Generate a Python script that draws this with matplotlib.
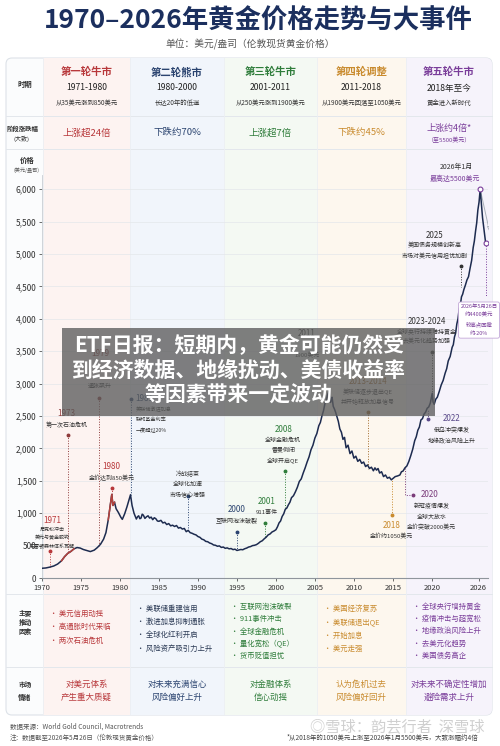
import matplotlib.pyplot as plt
from matplotlib.patches import Rectangle, FancyBboxPatch
from matplotlib.ticker import FuncFormatter

plt.rcParams['font.family'] = ['Noto Sans CJK SC', 'DejaVu Sans']
plt.rcParams['axes.unicode_minus'] = False

# ---- 金价（按图读取，美元/盎司）----
years = [1970.0, 1970.5, 1971.0, 1971.5, 1972.0, 1972.5, 1972.9, 1973.3, 1973.7, 1974.1,
         1974.5, 1974.9, 1975.3, 1975.7, 1976.2, 1976.7, 1977.1, 1977.5, 1977.9, 1978.2,
         1978.5, 1978.75, 1978.95, 1979.1, 1979.3, 1979.5, 1979.8, 1980.1, 1980.3, 1980.6,
         1980.9, 1981.15, 1981.35, 1981.55, 1981.8,
         1982.1, 1982.25, 1982.4, 1982.55, 1982.7, 1982.85, 1983.0, 1983.2, 1983.4, 1983.6,
         1983.8, 1984.0, 1984.2, 1984.4, 1984.6, 1984.8, 1985.0, 1985.25, 1985.5, 1985.75,
         1986.0, 1986.25, 1986.5, 1986.75, 1987.0, 1987.25, 1987.5, 1987.75, 1988.0, 1988.25,
         1988.5, 1988.75, 1989.0, 1989.25, 1989.5, 1989.75, 1990.0, 1990.25, 1990.5, 1990.75,
         1991.0, 1991.25, 1991.5, 1991.75, 1992.0, 1992.25, 1992.5, 1992.75, 1993.0, 1993.25,
         1993.5, 1993.75, 1994.0, 1994.25, 1994.5, 1994.75, 1995.0, 1995.25, 1995.5, 1995.75,
         1996.0, 1996.25, 1996.5, 1996.75, 1997.0, 1997.25, 1997.5, 1997.75, 1998.0, 1998.25,
         1998.5, 1998.75, 1999.0, 1999.25, 1999.5, 1999.75, 2000.0, 2000.2, 2000.4, 2000.6,
         2000.8, 2001.0, 2001.2, 2001.4, 2001.6, 2001.8, 2002.0, 2002.25, 2002.5, 2002.75,
         2003.0, 2003.25, 2003.5, 2003.75, 2004.0, 2004.25, 2004.5, 2004.75, 2005.0, 2005.25,
         2005.5, 2005.7, 2005.9, 2006.1, 2006.3, 2006.45, 2006.6, 2006.8, 2007.0, 2007.1,
         2007.2, 2007.35, 2007.5, 2007.65, 2007.8, 2008.0, 2008.2, 2008.4, 2008.6, 2008.8,
         2009.0, 2009.25, 2009.5, 2009.75, 2010.0, 2010.25, 2010.5, 2010.75, 2011.0, 2011.25,
         2011.5, 2011.75, 2012.0, 2012.25, 2012.5, 2012.7, 2012.9, 2013.1, 2013.3, 2013.55,
         2013.8, 2014.05, 2014.3, 2014.55, 2014.8, 2015.05, 2015.3, 2015.6, 2015.9, 2016.1,
         2016.3, 2016.55, 2016.8, 2017.05, 2017.3, 2017.55, 2017.8, 2018.0, 2018.2, 2018.4,
         2018.6, 2018.8, 2019.0, 2019.2, 2019.4, 2019.6, 2019.8, 2020.05, 2020.15, 2020.3,
         2020.5, 2020.7, 2020.95, 2021.2, 2021.45, 2021.7, 2021.9, 2022.1, 2022.35, 2022.6,
         2022.75, 2022.9, 2023.05, 2023.2, 2023.35, 2023.5, 2023.65, 2023.8, 2023.95, 2024.1,
         2024.3, 2024.5, 2024.7, 2024.9, 2025.1, 2025.3, 2025.45, 2025.6, 2025.75, 2025.9,
         2026.05, 2026.2, 2026.35, 2026.5, 2026.7, 2026.9]
prices = [150, 155, 168, 185, 215, 265, 330, 380, 410, 450,
          470, 462, 440, 425, 408, 430, 470, 520, 600, 700,
          900, 1120, 1290, 1120, 1170, 1070, 1010, 940, 905, 990,
          1100, 1200, 1285, 1120, 1000,
          910, 945, 960, 915, 925, 985, 970, 920, 945, 960,
          925, 940, 900, 930, 915, 880, 875, 890, 850, 860,
          825, 840, 805, 815, 795, 810, 770, 780, 755, 765,
          715, 735, 700, 690, 675, 665, 640, 628, 600, 590,
          565, 560, 540, 530, 510, 505, 490, 495, 472, 478,
          458, 465, 450, 455, 438, 445, 425, 432, 440, 436,
          452, 462, 478, 485, 500, 505, 515, 535, 560, 575,
          605, 630, 665, 680, 710, 725, 745, 790, 850, 880,
          950, 990, 1060, 1080, 1130, 1170, 1240, 1270, 1330, 1400,
          1490, 1530, 1620, 1700, 1790, 1870, 1980, 2050, 2160, 2230,
          2350, 2400, 2500, 2580, 2700, 2740, 2820, 2880, 2710, 2760,
          2790, 2650, 2610, 2560, 2500, 2420, 2300, 2250, 2140, 2170,
          2010, 2050, 1920, 1960, 1850, 1880, 1800, 1830, 1770, 1790,
          1720, 1745, 1690, 1710, 1655, 1700, 1665, 1690, 1620, 1640,
          1565, 1590, 1540, 1555, 1515, 1540, 1565, 1575, 1590, 1640,
          1650, 1700, 1730, 1800, 1890, 1990, 2120, 2180, 2280, 2330,
          2440, 2460, 2530, 2560, 2620, 2640, 2700, 2850, 2720, 2680,
          2760, 2790, 2880, 2980, 3050, 3160, 3230, 3350, 3420, 3560,
          3600, 3720, 3780, 3920, 4000, 4150, 4210, 4340, 4380, 4450,
          4520, 4600, 4650, 4780, 4900, 5100, 5200, 5350, 5480, 5680,
          5800, 6000, 5780, 5560, 5360, 5170]
proj_years = [2026.2, 2027.3]
proj_prices = [6000, 5400]

RED, NAVY, GREEN, GOLD, PURPLE = '#b8383b', '#2b4470', '#2f7d3b', '#c98b2e', '#7a3d9a'
DARK = '#333333'

eras = ['第一轮牛市', '第二轮熊市', '第三轮牛市', '第四轮调整', '第五轮牛市']
era_years = ['1971-1980', '1980-2000', '2001-2011', '2011-2018', '2018年至今']
era_desc = ['从35美元涨到850美元', '长达20年的低迷', '从250美元涨到1900美元',
            '从1900美元回落至1050美元', '黄金进入新时代']
era_change = ['上涨超24倍', '下跌约70%', '上涨超7倍', '下跌约45%', '上涨约4倍*']
era_colors = [RED, NAVY, GREEN, GOLD, PURPLE]
era_bg = ['#fdf3f1', '#f1f5fb', '#f4f9f3', '#fdf7ee', '#f6f3fb']
drivers = [['美元信用动摇', '高通胀时代来临', '两次石油危机'],
           ['美联储重建信用', '激进加息抑制通胀', '全球化红利开启', '风险资产吸引力上升'],
           ['互联网泡沫破裂', '911事件冲击', '全球金融危机', '量化宽松（QE）', '货币贬值担忧'],
           ['美国经济复苏', '美联储退出QE', '开始加息', '美元走强'],
           ['全球央行增持黄金', '疫情冲击与超宽松', '地缘政治风险上升', '去美元化趋势', '美国债务高企']]
moods = [['对美元体系', '产生重大质疑'], ['对未来充满信心', '风险偏好上升'],
         ['对金融体系', '信心动摇'], ['认为危机过去', '风险偏好回升'],
         ['对未来不确定性增加', '避险需求上升']]

# 事件：圆点年份, 圆点价格, 连线终点, 标题x, 标题y, 对齐, 颜色, 标题, 说明, 行距(px), 字号
events = [
    (1971.03, 417, 172, 1971.3, 880, 'center', RED, '1971',
     ['尼克松冲击', '美元与黄金脱钩', '布雷顿森林体系瓦解'], 8.3, 3.6),
    (1973.3, 2207, 385, 1973.17, 2541, 'center', '#8f3b3b', '1973', ['第一次石油危机'], 11.5, 4.3),
    (1977.31, 2782, 500, 1977.44, 3468, 'center', '#8f3b3b', '1979', [], 11, 4.3),
    (1978.94, 1384, 1270, 1978.94, 1718, 'center', RED, '1980', ['金价达到850美元'], 11.5, 4.3),
    (1981.37, 2758, 1285, 1982.0, 2773, 'left', NAVY, '1981',
     ['美联储激进加息', '联邦基金利率', '一度超过20%'], 10.8, 3.7),
    (1988.67, 1270, 720, 1988.67, 1770, 'center', NAVY, '',
     ['冷战结束', '全球化加速', '市场信心增强'], 10.5, 4.3),
    (1994.96, 714, 428, 1994.96, 1060, 'center', NAVY, '2000', ['互联网泡沫破裂'], 10.7, 4.3),
    (1998.59, 844, 630, 1998.81, 1177, 'center', GREEN, '2001', ['911事件'], 11, 4.3),
    (2001.15, 1656, 1080, 2000.94, 2295, 'center', GREEN, '2008',
     ['全球金融危机', '雷曼倒闭', '全球开启QE'], 10.6, 4.3),
    (None, None, None, 2003.94, 3776, 'center', DARK, '2011', [], 10.8, 4.3),
    (2011.83, 2557, 1690, 2011.83, 3029, 'center', '#a26a2a', '2013-2014',
     ['美联储逐步退出QE', '并开始释放加息信号'], 10.2, 4.3),
    (2014.83, 972, 1515, 2014.83, 818, 'center', GOLD, '2018', ['金价约1050美元'], 11, 4.3),
    (2019.53, 2449, 2610, 2022.53, 2464, 'center', '#5a4a8a', '2022',
     ['俄乌冲突爆发', '地缘政治风险上升'], 11.5, 4.3),
    (2020.04, 3492, 2760, 2019.32, 3957, 'center', DARK, '2023-2024',
     ['全球央行持续增持黄金', '去美元化趋势加强'], 10, 4.3),
    (2023.68, 4815, 4490, 2020.38, 5293, 'center', DARK, '2025',
     ['美国债务规模创新高', '市场对美元信用担忧加剧'], 10.5, 4.3),
]

fig = plt.figure(figsize=(5, 7.46), dpi=100)

# ---- 背景表格（像素坐标）----
bg = fig.add_axes([0, 0, 1, 1])
bg.set_xlim(0, 500)
bg.set_ylim(746, 0)
bg.axis('off')

col_edges = [6, 43, 130, 224, 317, 406, 492]
row_edges = [58, 116, 149, 594, 667, 715]
top, bottom = row_edges[0], row_edges[-1]

frame = FancyBboxPatch((6, top), 486, bottom - top, boxstyle='round,pad=0,rounding_size=6',
                       fc='#fbfcfd', ec='#dde2e8', lw=0.8, zorder=1)
bg.add_patch(frame)
for i in range(5):
    r = Rectangle((col_edges[i + 1], top), col_edges[i + 2] - col_edges[i + 1], bottom - top,
                  fc=era_bg[i], ec='none', zorder=1.1)
    bg.add_patch(r)
    r.set_clip_path(frame)
for y in row_edges[1:-1]:
    bg.plot([6, 492], [y, y], color='#e3e7ec', lw=0.7, zorder=1.2)
for x in col_edges[1:-1]:
    bg.plot([x, x], [top, bottom], color='#eceff3', lw=0.6, zorder=1.2)

bg.text(258, 21, '1970–2026年黄金价格走势与大事件', ha='center', va='center',
        fontsize=19, fontweight='bold', color='#1b2f5e')
bg.text(250, 44, '单位：美元/盎司（伦敦现货黄金价格）', ha='center', va='center',
        fontsize=7, color='#555555')

bg.text(25, 84, '时期', ha='center', va='center', fontsize=5.3, fontweight='bold', color=DARK)
bg.text(22, 128, '阶段涨跌幅', ha='center', va='center', fontsize=4.6, fontweight='bold', color=DARK)
bg.text(22, 138.5, '(大致)', ha='center', va='center', fontsize=4.3, color=DARK)
bg.text(27, 160, '价格', ha='center', va='center', fontsize=5.3, fontweight='bold', color=DARK)
bg.text(27, 170, '(美元/盎司)', ha='center', va='center', fontsize=3.7, color='#555555')
for k, t in enumerate(['主要', '推动', '因素']):
    bg.text(25, 613 + k * 9.3, t, ha='center', va='center', fontsize=4.8, fontweight='bold', color=DARK)
for k, t in enumerate(['市场', '情绪']):
    bg.text(25, 684 + k * 13, t, ha='center', va='center', fontsize=4.8, fontweight='bold', color=DARK)

for i in range(5):
    cx = (col_edges[i + 1] + col_edges[i + 2]) / 2
    c = era_colors[i]
    bg.text(cx, 72, eras[i], ha='center', va='center', fontsize=7.5, fontweight='bold', color=c)
    bg.text(cx, 88, era_years[i], ha='center', va='center', fontsize=6.2, color='#222222')
    bg.text(cx, 103, era_desc[i], ha='center', va='center', fontsize=4.6, color='#333333')
    if i == 4:
        bg.text(cx, 128, era_change[i], ha='center', va='center', fontsize=6.5, color=c)
        bg.text(cx, 140, '（至5500美元）', ha='center', va='center', fontsize=4.3, color=c)
    else:
        bg.text(cx, 133, era_change[i], ha='center', va='center', fontsize=6.8, color=c)
    items = drivers[i]
    y0 = 614 if len(items) == 3 else (609 if len(items) == 4 else 607)
    gap = 13.2 if len(items) <= 4 else 12.2
    for k, t in enumerate(items):
        bg.text(col_edges[i + 1] + 7, y0 + k * gap, '• ' + t, ha='left', va='center',
                fontsize=5.3, color=c if i != 1 else '#2b3a55')
    for k, t in enumerate(moods[i]):
        bg.text(cx, 684 + k * 13, t, ha='center', va='center', fontsize=6.1, color=c)

bg.text(10, 727, '数据来源：World Gold Council, Macrotrends', ha='left', va='center',
        fontsize=4.7, color='#555555')
bg.text(10, 738, '注：数据截至2026年5月26日（伦敦现货黄金价格）', ha='left', va='center',
        fontsize=4.7, color='#555555')
bg.text(478, 738, '*从2018年的1050美元上涨至2026年1月5500美元，大致涨幅约4倍', ha='right',
        va='center', fontsize=4.7, color='#444444')
bg.text(397, 727, '◎雪球：韵芸行者  深雪球', ha='center', va='center', fontsize=11,
        color='#c4c4c4', alpha=0.8)

# ---- 价格走势图 ----
ax = fig.add_axes([42 / 500, 1 - 578 / 746, 446 / 500, 403 / 746])
ax.set_facecolor('none')
ax.set_xlim(1970, 2027.2)
ax.set_ylim(0, 6220)
for s in ['top', 'right']:
    ax.spines[s].set_visible(False)
ax.spines['left'].set_color('#c8cdd3')
ax.spines['left'].set_linewidth(0.6)
ax.spines['bottom'].set_color('#8f959c')
ax.spines['bottom'].set_linewidth(0.8)
ax.set_yticks(range(0, 6001, 500))
ax.yaxis.set_major_formatter(FuncFormatter(lambda v, p: f'{v:,.0f}'))
ax.set_xticks([1970, 1975, 1980, 1985, 1990, 1995, 2000, 2005, 2010, 2015, 2020, 2026])
ax.tick_params(axis='y', labelsize=6, colors='#333333', length=2, width=0.5, pad=2)
ax.tick_params(axis='x', labelsize=5.5, colors='#333333', length=2, width=0.5, pad=2)
ax.grid(axis='y', color='#e4e7eb', lw=0.5)
ax.set_axisbelow(True)

ax.plot(years, prices, color='#1d2b4f', lw=1.1, zorder=3)
for lo, hi in [(1972.5, 1974.1), (1978.5, 1979.3)]:
    seg = [(x, p) for x, p in zip(years, prices) if lo <= x <= hi]
    ax.plot([s[0] for s in seg], [s[1] for s in seg], color='#b5423c', lw=1.1, zorder=3.5)

ax.plot(proj_years, proj_prices, color='#aab0b8', lw=0.7, zorder=2.5)
ax.plot(proj_years[-1], proj_prices[-1], marker='v', ms=3, mfc='none', mec='#aab0b8', mew=0.6)

peak_i = prices.index(max(prices))
ax.plot(years[peak_i], prices[peak_i], 'o', ms=3.5, mfc='white', mec=PURPLE, mew=0.8, zorder=5)
ax.plot(years[-1], prices[-1], 'o', ms=3.5, mfc='white', mec=PURPLE, mew=0.8, zorder=5)
ax.plot([years[-1], years[-1]], [prices[-1], 4340], ls=':', color=PURPLE, lw=0.7, zorder=2)

ax.text(2023.17, 6338, '2026年1月', ha='center', va='center', fontsize=5, color=DARK)
ax.text(2022.95, 6157, '最高达5500美元', ha='center', va='center', fontsize=5, color=PURPLE)
ax.text(2026.05, 3981, '2026年5月26日\n约4400美元\n较高点回撤\n约-20%', ha='center',
        va='center', fontsize=3.9, color=PURPLE, linespacing=1.9,
        bbox=dict(boxstyle='round,pad=0.35', fc='white', ec='#c3a8d8', lw=0.6), zorder=6)

for ev in events:
    yr, dot, end, tx, ty, ha, c, title, body, gap, fs = ev
    if yr is not None:
        ax.plot([yr, yr], [dot, end], ls=':', color=c, lw=0.7, zorder=2)
        ax.plot(yr, dot, 'o', ms=1.8, color=c, zorder=4)
    if title:
        ax.text(tx, ty, title, ha=ha, va='center', fontsize=5.8, color=c, zorder=6)
    for k, line in enumerate(body):
        ax.annotate(line, (tx, ty), xytext=(0, -(k + 1) * gap * 0.72),
                    textcoords='offset points', ha=ha, va='center', fontsize=fs,
                    color=DARK, zorder=6)

# 1979 / 2011 的说明文字位置较远
ax.text(1977.44, 2952, '通胀飙升', ha='center', va='center', fontsize=4.3, color=DARK)
ax.text(2003.94, 3441, '1900美元', ha='center', va='center', fontsize=4.3, color=DARK)

# 2020 事件（折线连接）
ax.plot([2016.58, 2016.58, 2017.6], [1700, 1281, 1281], ls=':', color='#7a3b7a', lw=0.7)
ax.plot(2017.6, 1281, 'o', ms=1.8, color='#7a3b7a')
ax.text(2019.74, 1292, '2020', ha='center', va='center', fontsize=5.8, color='#7a3b7a')
for k, line in enumerate(['新冠疫情爆发', '全球大放水', '金价突破2000美元']):
    ax.text(2019.95, 1107 - k * 165, line, ha='center', va='center', fontsize=4.3, color=DARK)

# ---- 顶部横幅 ----
top_ax = fig.add_axes([0, 0, 1, 1])
top_ax.set_xlim(0, 500)
top_ax.set_ylim(746, 0)
top_ax.axis('off')
top_ax.add_patch(Rectangle((62, 328), 373, 88, fc='#5c5c5c', ec='none', alpha=0.78))
for k, t in enumerate(['ETF日报：短期内，黄金可能仍然受', '到经济数据、地缘扰动、美债收益率',
                       '等因素带来一定波动']):
    top_ax.text(239, 345 + k * 25, t, ha='center', va='center', fontsize=15,
                fontweight='bold', color='white')

fig.savefig('out.png', dpi=100)
